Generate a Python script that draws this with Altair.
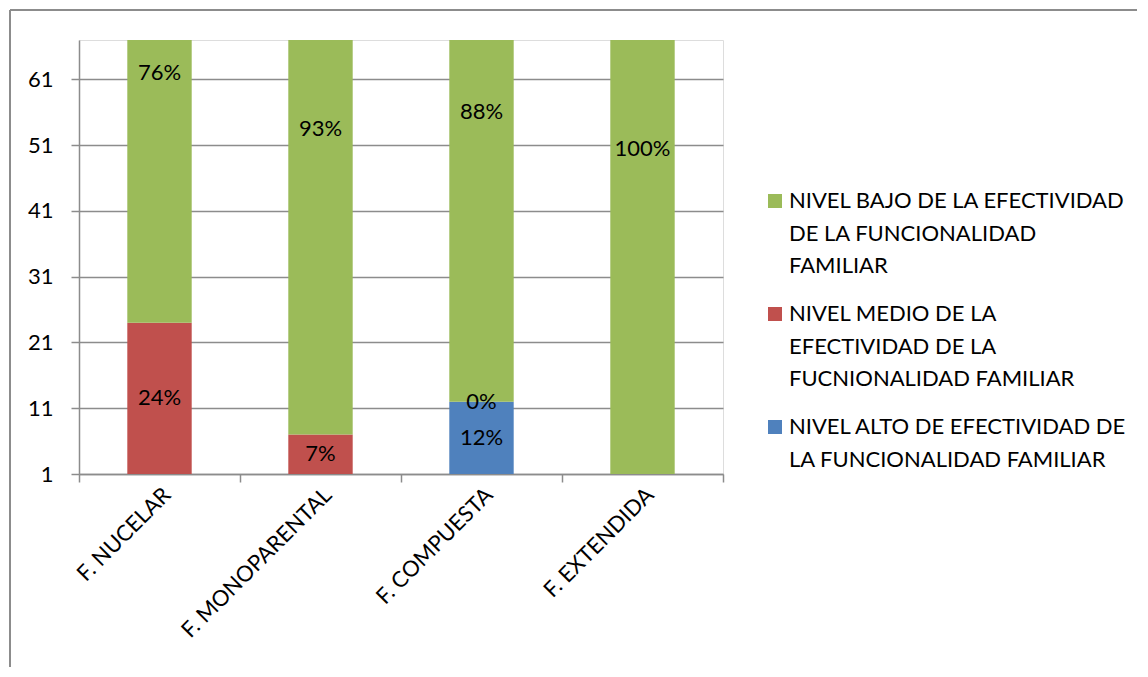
import altair as alt
import pandas as pd

# ---- data ----
categories = ["F. NUCELAR", "F. MONOPARENTAL", "F. COMPUESTA", "F. EXTENDIDA"]
series = [
    "NIVEL ALTO DE EFECTIVIDAD DE LA FUNCIONALIDAD FAMILIAR",
    "NIVEL MEDIO DE LA EFECTIVIDAD DE LA FUCNIONALIDAD FAMILIAR",
    "NIVEL BAJO DE LA EFECTIVIDAD DE LA FUNCIONALIDAD FAMILIAR",
]
alto = [None, None, 12, None]
medio = [24, 7, 0, None]
bajo = [76, 93, 88, 100]
colors = ["#4F81BD", "#C0504D", "#9BBB59"]
y_ticks = [1, 11, 21, 31, 41, 51, 61]
legend_order = [2, 1, 0]
legend_wrapped = [
    ["NIVEL ALTO DE EFECTIVIDAD DE", "LA FUNCIONALIDAD FAMILIAR"],
    ["NIVEL MEDIO DE LA", "EFECTIVIDAD DE LA", "FUCNIONALIDAD FAMILIAR"],
    ["NIVEL BAJO DE LA EFECTIVIDAD", "DE LA FUNCIONALIDAD", "FAMILIAR"],
]

AXIS_MIN, AXIS_MAX = 1, 67
GRAY = "#8c8c8c"
FONT = "Lato"
FS = 22

# ---- build stacked table ----
rows = []
values = [alto, medio, bajo]
for ci, cat in enumerate(categories):
    cum = 0
    for si, s in enumerate(series):
        v = values[si][ci]
        if v is None:
            continue
        start, end = cum, cum + v
        cum = end
        lo = max(start, AXIS_MIN)
        rows.append({"cat": cat, "serie": s, "lo": lo, "end": end,
                     "mid": (lo + end) / 2, "label": f"{v}%"})
df = pd.DataFrame(rows)

# legend rows (layout derived from line counts)
leg_rows, sw_rows = [], []
g = 0
for ei, si in enumerate(legend_order):
    for li, line in enumerate(legend_wrapped[si]):
        py = 161 + 32.5 * g + 15.5 * ei
        leg_rows.append({"txt": line, "py": py})
        if li == 0:
            sw_rows.append({"serie": series[si], "py": py})
        g += 1
leg_df = pd.DataFrame(leg_rows)
sw_df = pd.DataFrame(sw_rows)

color_scale = alt.Scale(domain=series, range=colors)
x_enc = alt.X(
    "cat:N", sort=categories,
    scale=alt.Scale(paddingInner=0, paddingOuter=0),
    axis=alt.Axis(title=None, labelAngle=-45, labelFontSize=FS, labelColor="black",
                  labelFont=FONT, tickBand="extent", tickSize=8, tickColor=GRAY,
                  domainColor=GRAY, tickWidth=1.5, domainWidth=1.5, labelPadding=2,
                  labelLimit=400),
)
y_scale = alt.Scale(domain=[AXIS_MIN, AXIS_MAX], nice=False, zero=False)

bars = alt.Chart(df).mark_bar(clip=True, width=alt.RelativeBandSize(0.4)).encode(
    x=x_enc,
    y=alt.Y("lo:Q", scale=y_scale,
            axis=alt.Axis(title=None, values=y_ticks, labelFontSize=FS, labelColor="black",
                          labelFont=FONT, grid=True, gridColor=GRAY, gridWidth=1.5,
                          tickSize=8, tickColor=GRAY, tickWidth=1.5,
                          domainColor=GRAY, domainWidth=1.5, labelPadding=18)),
    y2="end:Q",
    color=alt.Color("serie:N", scale=color_scale, legend=None),
)

labels = alt.Chart(df).mark_text(fontSize=FS, font=FONT, color="black",
                                 baseline="middle", align="center").encode(
    x=alt.X("cat:N", sort=categories),
    y=alt.Y("mid:Q", scale=y_scale, axis=None),
    text="label:N",
)

leg_text = alt.Chart(leg_df).mark_text(fontSize=FS, font=FONT, color="black",
                                       align="left", baseline="middle").encode(
    x=alt.value(710),
    y=alt.Y("py:Q", scale=None, axis=None),
    text="txt:N",
)
leg_sw = alt.Chart(sw_df).mark_square(size=196, opacity=1).encode(
    x=alt.value(696),
    y=alt.Y("py:Q", scale=None, axis=None),
    color=alt.Color("serie:N", scale=color_scale, legend=None),
)

frame_top = alt.Chart(df).mark_rule(color=GRAY, strokeWidth=2).encode(
    x=alt.value(-69), x2=alt.value(1058), y=alt.value(-30))
frame_left = alt.Chart(df).mark_rule(color=GRAY, strokeWidth=2).encode(
    x=alt.value(-69), y=alt.value(-30), y2=alt.value(627))

chart = alt.layer(bars, labels, leg_sw, leg_text, frame_top, frame_left).resolve_scale(
    y="independent"
).properties(
    width=644, height=434,
    padding={"left": 1, "top": 1, "right": 1, "bottom": 1},
).configure_view(stroke=None).configure(font=FONT)

chart.save("out.html", embed_options={"renderer": "svg", "actions": False})
